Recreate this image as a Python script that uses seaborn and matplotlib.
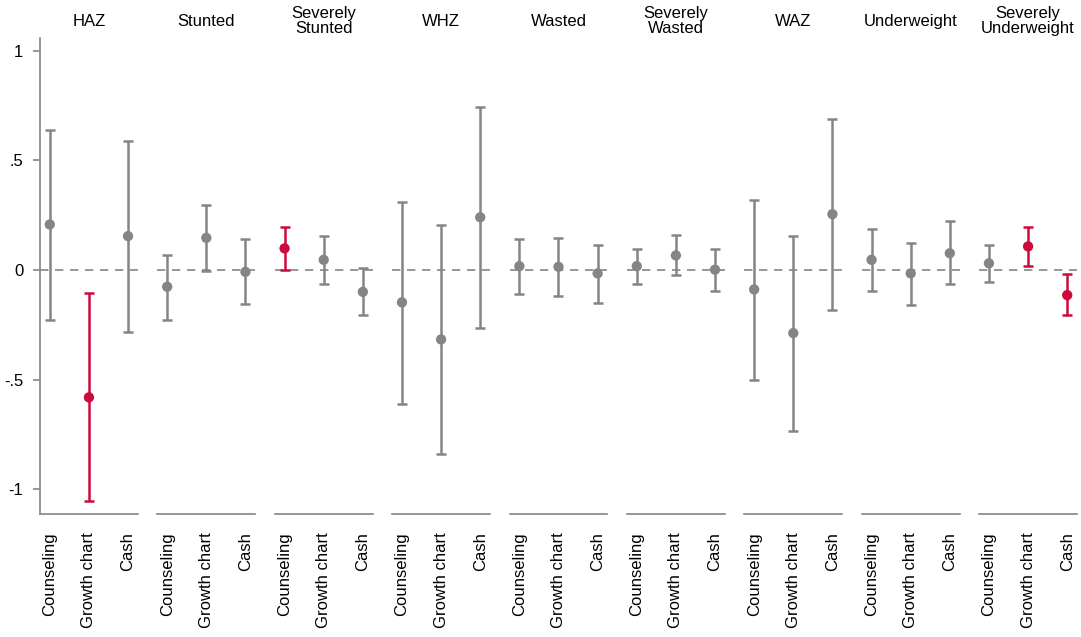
import pandas as pd
import matplotlib
matplotlib.use('Agg')
import matplotlib.pyplot as plt
import seaborn as sns

outcomes = ['HAZ', 'Stunted', 'Severely\nStunted', 'WHZ', 'Wasted', 'Severely\nWasted',
            'WAZ', 'Underweight', 'Severely\nUnderweight']
arms = ['Counseling', 'Growth chart', 'Cash']

# point estimates, per outcome: Counseling, Growth chart, Cash
est = [[0.208, -0.580, 0.155],
       [-0.076, 0.147, -0.008],
       [0.099, 0.047, -0.099],
       [-0.147, -0.316, 0.241],
       [0.018, 0.015, -0.015],
       [0.018, 0.067, 0.002],
       [-0.088, -0.287, 0.255],
       [0.047, -0.015, 0.077],
       [0.031, 0.108, -0.114]]
lower = [[-0.228, -1.051, -0.284],
         [-0.228, -0.003, -0.156],
         [0.001, -0.065, -0.204],
         [-0.609, -0.837, -0.263],
         [-0.108, -0.117, -0.149],
         [-0.062, -0.023, -0.096],
         [-0.501, -0.732, -0.184],
         [-0.093, -0.159, -0.064],
         [-0.055, 0.018, -0.205]]
upper = [[0.638, -0.103, 0.588],
         [0.067, 0.296, 0.140],
         [0.196, 0.155, 0.010],
         [0.311, 0.206, 0.743],
         [0.141, 0.146, 0.114],
         [0.097, 0.159, 0.097],
         [0.320, 0.156, 0.689],
         [0.187, 0.124, 0.223],
         [0.114, 0.196, -0.020]]

rows = []
for i, o in enumerate(outcomes):
    for j, a in enumerate(arms):
        sig = lower[i][j] > 0 or upper[i][j] < 0
        rows.append({'outcome': o, 'arm': a, 'pos': j, 'est': est[i][j],
                     'lo': lower[i][j], 'hi': upper[i][j], 'sig': sig})
df = pd.DataFrame(rows)

sns.set_style('white')
plt.rcParams['font.family'] = ['Liberation Sans', 'DejaVu Sans']
plt.rcParams['text.color'] = 'black'
plt.rcParams['xtick.color'] = 'black'
plt.rcParams['ytick.color'] = 'black'

GRAY = '#858585'
RED = '#cc0a3c'

fig, axes = plt.subplots(1, 9, sharey=True, figsize=(10.81, 6.37), dpi=100)
plt.subplots_adjust(left=0.037, right=0.9963, bottom=0.193, top=0.940, wspace=0.2)

for ax, o in zip(axes, outcomes):
    d = df[df['outcome'] == o]
    ax.axhline(0, color=GRAY, lw=1.2, ls=(0, (5, 4)), zorder=1)
    for _, r in d.iterrows():
        c = RED if r['sig'] else GRAY
        ax.errorbar(r['pos'], r['est'], yerr=[[r['est'] - r['lo']], [r['hi'] - r['est']]],
                    fmt='none', ecolor=c, elinewidth=1.8, capsize=3.5, capthick=1.8, zorder=2)
    sns.scatterplot(data=d, x='pos', y='est', hue='sig', palette={False: GRAY, True: RED},
                    s=55, edgecolor='none', legend=False, ax=ax, zorder=3)
    ax.set_xlim(-0.25, 2.25)
    ax.set_ylim(-1.112, 1.057)
    ax.set_xticks(range(3))
    ax.set_xticklabels(arms, rotation=90, fontsize=12)
    ax.tick_params(axis='x', length=0, pad=13, labelcolor='black')
    ax.set_xlabel('')
    ax.set_ylabel('')
    ax.text(0.5, 1.036, o, transform=ax.transAxes, ha='center', va='center',
            fontsize=12, linespacing=0.95, color='black')
    for s in ['top', 'right']:
        ax.spines[s].set_visible(False)
    ax.spines['bottom'].set_color(GRAY)
    ax.spines['bottom'].set_linewidth(1.2)
    if ax is axes[0]:
        ax.spines['left'].set_color(GRAY)
        ax.spines['left'].set_linewidth(1.2)
        ax.set_yticks([1, 0.5, 0, -0.5, -1])
        ax.set_yticklabels(['1', '.5', '0', '-.5', '-1'], fontsize=12)
        ax.tick_params(axis='y', left=True, length=5, width=1.2, color=GRAY, pad=7,
                       labelcolor='black')
    else:
        ax.spines['left'].set_visible(False)
        ax.tick_params(axis='y', left=False)

fig.savefig('out.png', dpi=100)
